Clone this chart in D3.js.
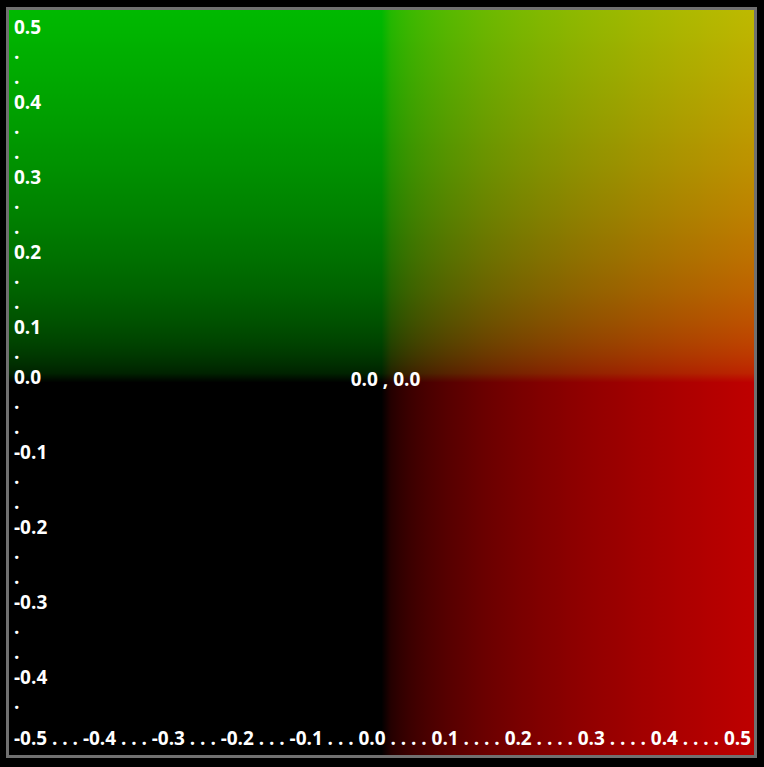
<!DOCTYPE html>
<html>
<head>
<meta charset="utf-8">
<script src="https://cdn.jsdelivr.net/npm/d3@7/dist/d3.min.js"></script>
<style>
  html, body { margin: 0; padding: 0; background: #000; }
  svg { display: block; }
  text { font-family: "Open Sans", "Noto Sans", sans-serif; font-weight: 700; fill: #fff; }
</style>
</head>
<body>
<svg id="chart" width="764" height="767"></svg>
<script>
// ---- data ----
const xDomain = [-0.5, 0.5];
const yDomain = [-0.5, 0.5];
const redRamp = ["#000000", "#be0000"];     // x from 0 to 0.5
const greenRamp = ["#000000", "#00b900"];   // y from 0 to 0.5
const xTickLabels = ["-0.5", "-0.4", "-0.3", "-0.2", "-0.1", "0.0", "0.1", "0.2", "0.3", "0.4", "0.5"];
const yLabelLines = ["0.5", ".", ".", "0.4", ".", ".", "0.3", ".", ".", "0.2", ".", ".", "0.1", ".",
                     "0.0", ".", ".", "-0.1", ".", ".", "-0.2", ".", ".", "-0.3", ".", ".", "-0.4", "."];
const originLabel = "0.0 , 0.0";

// ---- layout ----
const svg = d3.select("#chart");
const plot = { x0: 9, y0: 10, x1: 754, y1: 755 };
const x = d3.scaleLinear().domain(xDomain).range([plot.x0, plot.x1]);
const y = d3.scaleLinear().domain(yDomain).range([plot.y1, plot.y0]);
const fs = 19;

// border
svg.append("rect")
  .attr("x", plot.x0 - 3).attr("y", plot.y0 - 3)
  .attr("width", plot.x1 - plot.x0 + 6).attr("height", plot.y1 - plot.y0 + 6)
  .attr("fill", "#707070");
svg.append("rect")
  .attr("x", plot.x0).attr("y", plot.y0)
  .attr("width", plot.x1 - plot.x0).attr("height", plot.y1 - plot.y0)
  .attr("fill", "#000");

const defs = svg.append("defs");
const stops = d3.range(0, 1.0001, 0.025);
function makeGrad(id, ramp, x1, y1, x2, y2) {
  const interp = d3.interpolateRgb.gamma(2.2)(ramp[0], ramp[1]);
  const g = defs.append("linearGradient").attr("id", id)
    .attr("x1", x1).attr("y1", y1).attr("x2", x2).attr("y2", y2);
  g.selectAll("stop").data(stops).join("stop")
    .attr("offset", d => d)
    .attr("stop-color", d => interp(d));
}
makeGrad("redGrad", redRamp, 0, 0, 1, 0);
makeGrad("greenGrad", greenRamp, 0, 1, 0, 0);

const layers = svg.append("g").style("isolation", "isolate");
layers.append("rect")
  .attr("x", x(0)).attr("y", y(0.5))
  .attr("width", x(0.5) - x(0)).attr("height", y(-0.5) - y(0.5))
  .attr("fill", "url(#redGrad)");
layers.append("rect")
  .attr("x", x(-0.5)).attr("y", y(0.5))
  .attr("width", x(0.5) - x(-0.5)).attr("height", y(0) - y(0.5))
  .attr("fill", "url(#greenGrad)")
  .style("mix-blend-mode", "lighten");

// y label stack
const lineY = d3.scaleLinear().domain([0, 1]).range([34, 59]);
svg.append("g").selectAll("text").data(yLabelLines).join("text")
  .attr("x", 14)
  .attr("y", (d, i) => lineY(i))
  .attr("font-size", fs)
  .text(d => d);

// bottom label row
const bottomText = xTickLabels.map((t, i) => {
  if (i === xTickLabels.length - 1) return t;
  const v = +t;
  return t + (v < 0 ? " . . . " : " . . . . ");
}).join("");
svg.append("text")
  .attr("x", 14).attr("y", 745)
  .attr("font-size", fs)
  .attr("textLength", 737)
  .attr("lengthAdjust", "spacing")
  .text(bottomText);

// origin label
svg.append("text")
  .attr("x", x(0) + 4).attr("y", y(0) + 3)
  .attr("text-anchor", "middle")
  .attr("font-size", fs)
  .text(originLabel);
</script>
</body>
</html>
